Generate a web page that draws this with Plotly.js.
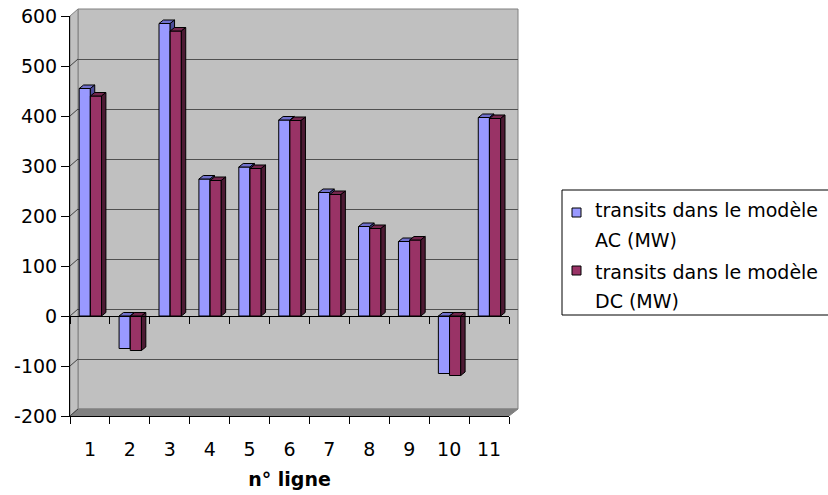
<!DOCTYPE html>
<html>
<head>
<meta charset="utf-8">
<script src="https://cdn.plot.ly/plotly-3.0.1.min.js"></script>
<style>html,body{margin:0;padding:0;background:#fff;}#chart{width:828px;height:495px;}</style>
</head>
<body>
<div id="chart"></div>
<script>
// ---- data ----
const categories = [1, 2, 3, 4, 5, 6, 7, 8, 9, 10, 11];
const tickLabels = ['1', '2', '3', '4', '5', '6', '7', '8', '9', '10', '11'];
const acValues = [455, -65, 585, 274, 298, 392, 247, 179, 149, -115, 397];
const dcValues = [440, -69, 570, 271, 295, 391, 243, 175, 152, -119, 395];
const yTicks = [-200, -100, 0, 100, 200, 300, 400, 500, 600];
const yTickLabels = ['-200', '-100', '0', '100', '200', '300', '400', '500', '600'];
const seriesNames = ['transits dans le modèle<br>AC (MW)', 'transits dans le modèle<br>DC (MW)'];
const seriesColors = ['#9999FF', '#993366'];
const xTitle = 'n° ligne';

// ---- geometry (pixels) ----
const W = 828, H = 495;
const L = 70, R = 518, T = 9, B = 416;          // plot area incl. 3D depth
const FR = 509, FT = 16;                          // front plane right / top
const DX = 8, DY = 7;                             // depth offset
const pw = R - L, ph = B - T;
const px = x => (x - L) / pw;
const py = y => (B - y) / ph;
const yMin = -200, yMax = 600;
const xMin = 0.5, xMax = 11.5;
const unitsPerPx = (yMax - yMin) / (B - FT);

const bounds = categories.map(c => c - 0.5).concat([categories[categories.length - 1] + 0.5]);

// bar geometry (style)
const barW = 0.28, acOff = -0.27, dcOff = 0.01;
const depthX = 0.11, depthY = 3.5 * unitsPerPx;

function faces(values, off) {
  const top = {x: [], y: []}, side = {x: [], y: []};
  values.forEach((v, i) => {
    const xL = categories[i] + off, xR = xL + barW;
    const hi = Math.max(v, 0), lo = Math.min(v, 0);
    top.x.push(xL, xL + depthX, xR + depthX, xR, xL, null);
    top.y.push(hi, hi + depthY, hi + depthY, hi, hi, null);
    side.x.push(xR, xR + depthX, xR + depthX, xR, xR, null);
    side.y.push(lo, lo + depthY, hi + depthY, hi, lo, null);
  });
  return {top, side};
}

const acF = faces(acValues, acOff);
const dcF = faces(dcValues, dcOff);
const edge = {color: '#000', width: 1};

const traces = [
  // grid subplot (back wall)
  {type: 'scatter', x: [], y: [], xaxis: 'x', yaxis: 'y', showlegend: false, hoverinfo: 'skip'},
  // AC series (front subplot)
  {type: 'bar', name: seriesNames[0], x: categories, y: acValues, xaxis: 'x2', yaxis: 'y2',
   width: barW, offset: acOff, marker: {color: seriesColors[0], line: edge}},
  {type: 'scatter', x: acF.top.x, y: acF.top.y, xaxis: 'x2', yaxis: 'y2', mode: 'lines', fill: 'toself',
   fillcolor: '#7070CC', line: edge, showlegend: false, hoverinfo: 'skip'},
  {type: 'scatter', x: acF.side.x, y: acF.side.y, xaxis: 'x2', yaxis: 'y2', mode: 'lines', fill: 'toself',
   fillcolor: '#4C4C99', line: edge, showlegend: false, hoverinfo: 'skip'},
  // DC series (overlay subplot)
  {type: 'bar', name: seriesNames[1], x: categories, y: dcValues, xaxis: 'x3', yaxis: 'y3',
   width: barW, offset: dcOff, marker: {color: seriesColors[1], line: edge}},
  {type: 'scatter', x: dcF.top.x, y: dcF.top.y, xaxis: 'x3', yaxis: 'y3', mode: 'lines', fill: 'toself',
   fillcolor: '#73264D', line: edge, showlegend: false, hoverinfo: 'skip'},
  {type: 'scatter', x: dcF.side.x, y: dcF.side.y, xaxis: 'x3', yaxis: 'y3', mode: 'lines', fill: 'toself',
   fillcolor: '#4D1A33', line: edge, showlegend: false, hoverinfo: 'skip'}
];

const frontYDomain = [0, py(FT)];
const zeroPos = frontYDomain[0] + (0 - yMin) / (yMax - yMin) * (frontYDomain[1] - frontYDomain[0]);

const shapes = [
  // back wall
  {type: 'rect', xref: 'paper', yref: 'paper', x0: px(L + DX), x1: px(R), y0: py(B - DY), y1: py(T),
   fillcolor: '#C0C0C0', line: {color: '#808080', width: 1}, layer: 'below'},
  // left wall
  {type: 'path', xref: 'paper', yref: 'paper',
   path: `M${px(L)},${py(FT)} L${px(L + DX)},${py(T)} L${px(L + DX)},${py(B - DY)} L${px(L)},${py(B)} Z`,
   fillcolor: '#C0C0C0', line: {color: '#808080', width: 1}, layer: 'below'},
  // floor
  {type: 'path', xref: 'paper', yref: 'paper',
   path: `M${px(L)},${py(B)} L${px(L + DX)},${py(B - DY)} L${px(R)},${py(B - DY)} L${px(FR)},${py(B)} Z`,
   fillcolor: '#808080', line: {color: '#808080', width: 1}, layer: 'below'}
];
// diagonal tick connectors on the left wall
yTicks.forEach(t => {
  shapes.push({type: 'line', xref: 'paper', yref: 'y2', x0: px(L), x1: px(L + DX), y0: t, y1: t + DY * unitsPerPx,
    line: {color: '#404040', width: 1}, layer: 'above'});
});

// ---- legend (box, keys, text) ----
const LG = {left: 562, top: 190, bottom: 315, right: 840, keyX: 572, keySize: 9, textX: 593,
            itemTop: [208, 266], lineCenter: [[210.5, 239.5], [271.5, 300.5]]};
shapes.push({type: 'rect', xref: 'paper', yref: 'paper', x0: px(LG.left), x1: px(LG.right),
  y0: py(LG.bottom), y1: py(LG.top), fillcolor: '#FFFFFF', line: {color: '#000', width: 1}, layer: 'above'});
const annotations = [];
seriesNames.forEach((name, k) => {
  shapes.push({type: 'rect', xref: 'paper', yref: 'paper', x0: px(LG.keyX), x1: px(LG.keyX + LG.keySize),
    y0: py(LG.itemTop[k] + LG.keySize), y1: py(LG.itemTop[k]), fillcolor: seriesColors[k],
    line: {color: '#000', width: 1}, layer: 'above'});
  name.split('<br>').forEach((line, j) => {
    annotations.push({xref: 'paper', yref: 'paper', x: px(LG.textX), y: py(LG.lineCenter[k][j]),
      xanchor: 'left', yanchor: 'middle', text: line, showarrow: false, align: 'left',
      font: {family: 'DejaVu Sans', size: 19, color: '#000'}});
  });
});

const layout = {
  width: W, height: H,
  margin: {l: L, r: W - R, t: T, b: H - B, pad: 0},
  paper_bgcolor: '#FFFFFF',
  plot_bgcolor: 'rgba(0,0,0,0)',
  font: {family: 'DejaVu Sans', size: 19, color: '#000'},
  showlegend: false,
  // back wall axes (grid)
  xaxis: {domain: [px(L + DX), 1], range: [xMin, xMax], visible: false, fixedrange: true},
  yaxis: {domain: [py(B - DY), 1], range: [yMin, yMax], anchor: 'x', tickmode: 'array', tickvals: yTicks,
          showgrid: true, gridcolor: '#505050', gridwidth: 1, showticklabels: false, ticks: '',
          showline: false, zeroline: false, fixedrange: true},
  // front axes
  xaxis2: {domain: [0, px(FR)], range: [xMin, xMax], anchor: 'y2',
           tickmode: 'array', tickvals: categories, ticktext: tickLabels, ticks: '',
           minor: {tickmode: 'array', tickvals: bounds, ticks: 'outside', ticklen: 7, tickwidth: 1, tickcolor: '#000', showgrid: false},
           showline: true, linecolor: '#000', linewidth: 1, showgrid: false, zeroline: false,
           ticklabelstandoff: 16,
           tickfont: {family: 'DejaVu Sans', size: 19, color: '#000'},
           title: {text: xTitle, font: {family: 'DejaVu Sans', size: 19, weight: 'bold', color: '#000'}, standoff: 13},
           fixedrange: true},
  yaxis2: {domain: frontYDomain, range: [yMin, yMax], anchor: 'x2',
           tickmode: 'array', tickvals: yTicks, ticktext: yTickLabels, ticks: 'outside', ticklen: 8, tickwidth: 1, tickcolor: '#000',
           showline: true, linecolor: '#000', linewidth: 1, showgrid: false, zeroline: false,
           tickfont: {family: 'DejaVu Sans', size: 19, color: '#000'}, fixedrange: true},
  // overlay axes for the second series + axis line at zero
  xaxis3: {overlaying: 'x2', range: [xMin, xMax], anchor: 'free', position: zeroPos,
           tickmode: 'array', tickvals: bounds, showticklabels: false, ticks: 'outside', ticklen: 7,
           tickcolor: '#000', showline: true, linecolor: '#000', linewidth: 1, showgrid: false, zeroline: false,
           fixedrange: true},
  yaxis3: {overlaying: 'y2', range: [yMin, yMax], visible: false, fixedrange: true},
  shapes: shapes,
  annotations: annotations
};

Plotly.newPlot('chart', traces, layout, {staticPlot: true, displayModeBar: false});
</script>
</body>
</html>
